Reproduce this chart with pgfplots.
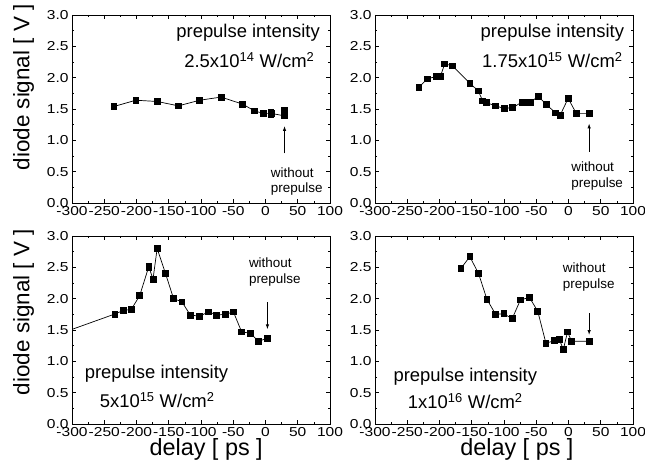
\documentclass[border=0pt]{standalone}
\usepackage{fontspec}
\setmainfont{Liberation Sans}
\newfontfamily\tickfont[FakeStretch=1.2]{Liberation Sans}
\usepackage{pgfplots}
\pgfplotsset{compat=1.18}
\usetikzlibrary{arrows.meta}

\pgfplotsset{
  panel/.style={
    scale only axis, width=258bp, height=188bp,
    xmin=-300, xmax=100, ymin=0, ymax=3,
    xtick={-300,-250,...,100}, ytick={0,0.5,...,3},
    minor x tick num=1, minor y tick num=1,
    tick align=inside, xtick pos=both, ytick pos=both,
    xticklabel pos=lower, yticklabel pos=left,
    major tick length=4bp, minor tick length=2bp,
    axis line style={line width=0.9pt},
    every tick/.style={black, line width=0.7pt},
    tick label style={font=\tickfont\fontsize{13}{14}\selectfont},
    xticklabel style={inner xsep=0pt},
    /pgf/number format/assume math mode=true,
    yticklabel style={/pgf/number format/fixed, /pgf/number format/fixed zerofill, /pgf/number format/precision=1},
  },
  leftlab/.style={
    ylabel={diode signal [ V ]},
    ylabel style={font=\fontsize{22.5}{25}\selectfont, at={(axis description cs:-0.165,#1)}, anchor=base},
  },
  botlab/.style={
    xlabel={delay [ ps ]},
    xlabel style={font=\fontsize{23.5}{26}\selectfont, at={(axis description cs:#1,-0.165)}, anchor=base},
  },
  series/.style={black, line width=0.7pt, mark=square*, mark size=2.9bp,
    error bars/y dir=both, error bars/y explicit,
    error bars/error bar style={line width=0.7pt}},
}
\newcommand{\annfont}{\fontsize{18.5}{20}\selectfont}
\newcommand{\wpfont}{\fontsize{13.5}{15}\selectfont}

\begin{document}
\begin{tikzpicture}
\useasboundingbox (0,0) rectangle (645bp,476bp);

% top left: 2.5x10^14
\begin{axis}[panel, leftlab=0.615, at={(72bp,273bp)}, anchor=south west]
\addplot[series] coordinates {
  (-235,1.54) (-201,1.64) (-168,1.62) (-135,1.55) (-102,1.64) (-69,1.69)
  (-36,1.58) (-17,1.47) +- (0,0.04) (-3.5,1.43) +- (0,0.05) (9,1.43) +- (0,0.06)
  (29.5,1.39) +- (0,0.03)
};
\addplot[series, only marks] coordinates {(29.5,1.48) +- (0,0.03)};
\node[font=\annfont] at (axis cs:-27,2.71) {prepulse intensity};
\node[font=\annfont] at (axis cs:-25,2.28) {2.5x10\textsuperscript{14} W/cm\textsuperscript{2}};
\draw[line width=0.9pt, -{Latex[length=5pt,width=3.5pt]}] (axis cs:29.5,0.79) -- (axis cs:29.5,1.23);
\node[font=\wpfont, anchor=west] at (axis cs:3,0.48) {without};
\node[font=\wpfont, anchor=west] at (axis cs:3,0.23) {prepulse};
\end{axis}

% top right: 1.75x10^15
\begin{axis}[panel, at={(375bp,273bp)}, anchor=south west]
\addplot[series] coordinates {
  (-232,1.85) (-219,1.98) (-205,2.02) (-198.5,2.02) (-192,2.22) (-180,2.19)
  (-153,1.91) (-140,1.79) (-133,1.63) (-127,1.60) (-113,1.55) (-100,1.51)
  (-87,1.52) (-72,1.61) (-65,1.60) (-59,1.61) (-47,1.70) (-34,1.57)
  (-20.5,1.44) (-13,1.40) (-0.5,1.67) (12,1.43) (32,1.43)
};
\node[font=\annfont] at (axis cs:-25,2.71) {prepulse intensity};
\node[font=\annfont] at (axis cs:-25,2.28) {1.75x10\textsuperscript{15} W/cm\textsuperscript{2}};
\draw[line width=0.9pt, -{Latex[length=5pt,width=3.5pt]}] (axis cs:32,0.82) -- (axis cs:32,1.27);
\node[font=\wpfont, anchor=west] at (axis cs:-1,0.58) {without};
\node[font=\wpfont, anchor=west] at (axis cs:-1,0.30) {prepulse};
\end{axis}

% bottom left: 5x10^15
\begin{axis}[panel, leftlab=0.595, botlab=0.52, at={(72bp,52bp)}, anchor=south west]
\addplot[black, line width=0.7pt] coordinates {(-300,1.51) (-233.6,1.755)};
\addplot[series] coordinates {
  (-233.6,1.755) (-221,1.81) (-208,1.83) (-195,2.05) (-181,2.51) +- (0,0.05)
  (-174.4,2.31) (-168,2.80) +- (0,0.05) (-155,2.40) +- (0,0.04) (-142.5,2.00)
  (-129.6,1.95) (-116.7,1.74) +- (0,0.04) (-102.3,1.72) (-88.4,1.79)
  (-75.6,1.74) +- (0,0.05) (-62,1.75) +- (0,0.05) (-49.8,1.79) (-37,1.47)
  (-24,1.45) (-10.7,1.32) (3,1.37)
};
\node[font=\annfont] at (axis cs:-169,0.80) {prepulse intensity};
\node[font=\annfont] at (axis cs:-168,0.38) {5x10\textsuperscript{15} W/cm\textsuperscript{2}};
\draw[line width=0.9pt, -{Latex[length=5pt,width=3.5pt]}] (axis cs:3,1.94) -- (axis cs:3,1.51);
\node[font=\wpfont, anchor=west] at (axis cs:-31,2.57) {without};
\node[font=\wpfont, anchor=west] at (axis cs:-31,2.30) {prepulse};
\end{axis}

% bottom right: 1x10^16
\begin{axis}[panel, botlab=0.55, at={(375bp,52bp)}, anchor=south west]
\addplot[series] coordinates {
  (-167,2.48) (-153,2.67) (-139.4,2.40) (-126.5,1.99) (-113,1.75) (-100.3,1.76)
  (-87.4,1.68) (-74.5,1.98) (-60.6,2.02) (-47.7,1.80) (-35,1.29) (-21.5,1.33)
  (-14.3,1.35) (-8,1.19) (-1.5,1.47) (4.8,1.32) (32,1.32)
};
\node[font=\annfont] at (axis cs:-160,0.755) {prepulse intensity};
\node[font=\annfont] at (axis cs:-160,0.36) {1x10\textsuperscript{16} W/cm\textsuperscript{2}};
\draw[line width=0.9pt, -{Latex[length=5pt,width=3.5pt]}] (axis cs:32,1.77) -- (axis cs:32,1.42);
\node[font=\wpfont, anchor=west] at (axis cs:-14,2.50) {without};
\node[font=\wpfont, anchor=west] at (axis cs:-14,2.22) {prepulse};
\end{axis}
\end{tikzpicture}
\end{document}
